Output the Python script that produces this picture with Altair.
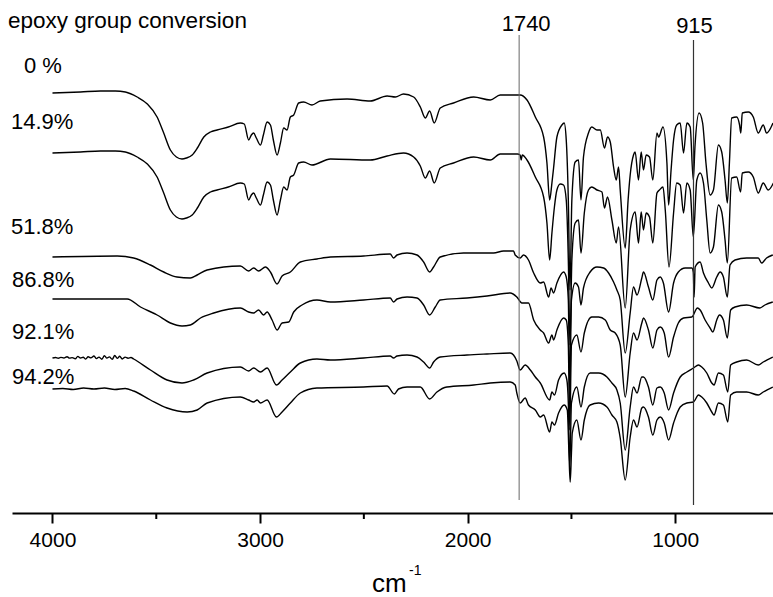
import altair as alt
import pandas as pd

# ---- data (wavenumber cm^-1, offset transmittance a.u.) ----
series_names = ["0 %", "14.9%", "51.8%", "86.8%", "92.1%", "94.2%"]

spec_0 = [(4000,420),(3865,421),(3769,422),(3697,422),(3649,421),(3592,416),(3543,409),(3496,396),(3466,381),(3432,363),(3403,356),(3376,354),(3355,355),(3327,358),(3302,365),(3271,376),(3239,381),(3207,383),(3153,386),(3095,390),(3076,389),(3055,373),(3042,378),(3031,380),(3018,375),(2998,368),(2984,378),(2966,391),(2950,388),(2936,373),(2918,358),(2902,370),(2886,385),(2870,383),(2854,396),(2838,398),(2814,410),(2790,411),(2750,408),(2710,412),(2581,414),(2469,412),(2388,417),(2348,416),(2309,419),(2260,416),(2228,406),(2204,395),(2183,402),(2161,390),(2132,405),(2068,410),(1971,416),(1891,413),(1843,418),(1747,418),(1714,413),(1674,396),(1634,376),(1618,350),(1605,313),(1594,330),(1586,345),(1570,376),(1546,388),(1535,390),(1525,373),(1515,313),(1507,223),(1498,313),(1482,351),(1466,353),(1454,313),(1442,356),(1418,380),(1402,386),(1377,383),(1361,383),(1341,365),(1326,376),(1313,371),(1297,346),(1284,333),(1273,346),(1265,323),(1241,265),(1227,313),(1217,338),(1201,358),(1193,361),(1177,333),(1164,361),(1153,343),(1140,358),(1124,356),(1108,333),(1088,380),(1080,376),(1059,386),(1040,350),(1032,308),(1020,343),(1008,373),(993,388),(976,390),(960,360),(944,390),(928,386),(913,333),(905,366),(885,400),(868,390),(852,350),(832,318),(816,323),(792,368),(776,361),(760,333),(749,310),(739,350),(728,395),(704,396),(690,388),(684,380),(677,400),(648,401),(624,396),(600,380),(576,388),(560,380),(529,390)]

spec_149 = [(4000,360),(3865,361),(3769,362),(3697,362),(3649,361),(3592,356),(3543,349),(3496,336),(3466,321),(3432,303),(3403,296),(3376,294),(3355,295),(3327,298),(3302,305),(3271,316),(3239,321),(3207,323),(3153,326),(3095,330),(3076,329),(3055,313),(3042,318),(3031,320),(3018,315),(2998,308),(2984,318),(2966,331),(2950,328),(2936,313),(2918,298),(2902,313),(2886,326),(2870,323),(2854,336),(2838,338),(2814,350),(2790,351),(2750,348),(2661,354),(2469,353),(2388,357),(2309,360),(2260,356),(2228,347),(2204,335),(2183,342),(2161,330),(2132,345),(2068,350),(1971,356),(1891,353),(1843,359),(1760,359),(1747,358),(1742,353),(1737,358),(1714,353),(1674,336),(1634,316),(1618,290),(1605,253),(1594,280),(1582,306),(1570,323),(1554,329),(1538,328),(1525,313),(1515,253),(1507,168),(1498,253),(1482,290),(1466,293),(1454,260),(1438,300),(1418,323),(1402,326),(1377,323),(1353,321),(1341,305),(1326,316),(1305,293),(1284,270),(1273,286),(1241,205),(1217,283),(1193,301),(1177,270),(1164,301),(1153,283),(1140,300),(1124,296),(1108,270),(1088,320),(1076,323),(1059,326),(1048,303),(1030,246),(1008,300),(993,330),(976,328),(960,300),(944,330),(928,323),(913,276),(896,333),(880,340),(864,330),(848,293),(832,260),(816,266),(792,308),(776,301),(760,273),(749,250),(728,335),(704,336),(685,321),(677,340),(648,341),(624,336),(600,320),(576,330),(552,323),(527,330)]

spec_518 = [(4000,256),(3688,257),(3609,255),(3528,248),(3464,241),(3400,236),(3336,235),(3303,238),(3255,243),(3095,247),(3055,242),(3031,245),(3007,242),(2974,246),(2950,241),(2918,229),(2894,237),(2854,241),(2806,251),(2726,254),(2661,256),(2501,257),(2373,259),(2357,255),(2340,258),(2292,260),(2244,258),(2212,251),(2183,241),(2164,246),(2132,256),(2020,260),(1875,260),(1827,262),(1779,262),(1771,258),(1747,255),(1731,258),(1707,253),(1682,240),(1650,230),(1634,231),(1610,216),(1598,225),(1586,220),(1570,230),(1538,241),(1525,236),(1515,213),(1508,118),(1500,213),(1482,230),(1466,226),(1454,208),(1442,225),(1410,241),(1377,246),(1345,245),(1321,240),(1297,231),(1281,223),(1265,213),(1241,160),(1217,200),(1201,226),(1184,218),(1161,235),(1153,241),(1129,226),(1108,213),(1088,233),(1072,236),(1057,230),(1032,201),(1008,230),(985,241),(952,245),(920,245),(913,241),(909,216),(904,246),(880,251),(864,240),(840,230),(824,225),(800,236),(784,241),(768,236),(749,216),(736,248),(712,253),(656,255),(600,255),(584,250),(560,255),(530,258)]

spec_868 = [(4000,214),(3640,214),(3576,206),(3496,198),(3432,190),(3376,187),(3336,188),(3287,195),(3223,200),(3095,205),(3055,201),(3031,200),(3007,203),(2983,198),(2966,201),(2942,193),(2918,183),(2894,190),(2862,191),(2838,201),(2798,208),(2726,213),(2661,211),(2501,213),(2373,215),(2357,211),(2340,214),(2292,216),(2244,215),(2212,208),(2183,198),(2156,206),(2132,213),(2003,215),(1907,217),(1795,220),(1763,216),(1739,210),(1707,210),(1682,193),(1650,183),(1634,180),(1610,170),(1594,178),(1586,173),(1570,183),(1538,195),(1525,193),(1515,168),(1508,83),(1500,168),(1474,178),(1454,161),(1438,180),(1402,196),(1369,196),(1337,193),(1313,183),(1289,180),(1265,168),(1241,116),(1217,160),(1201,180),(1184,173),(1161,190),(1153,195),(1129,183),(1108,165),(1088,183),(1072,186),(1053,180),(1032,156),(1008,176),(985,190),(960,195),(920,196),(893,205),(880,203),(856,193),(832,185),(819,181),(800,193),(787,198),(768,193),(749,175),(733,203),(712,206),(656,208),(592,205),(568,208),(530,211)]

spec_921 = [(4000,155),(3985,155.5),(3972,154.8),(3960,155.6),(3945,155),(3930,156.3),(3918,154.9),(3905,155.4),(3890,154.2),(3878,156.6),(3865,155),(3852,155.8),(3840,153.9),(3828,156.2),(3815,155.1),(3800,157),(3788,154.4),(3776,155.9),(3762,153.8),(3750,157.3),(3738,154.9),(3726,156.1),(3712,153.7),(3700,157.5),(3688,154.6),(3676,156.8),(3664,154),(3650,155.9),(3636,154.8),(3622,155.5),(3609,154),(3528,143),(3448,133),(3376,130),(3320,133),(3255,140),(3095,146),(3055,142),(3031,145),(2998,141),(2966,145),(2921,128),(2894,133),(2854,141),(2806,150),(2726,154),(2661,153),(2501,155),(2373,157),(2357,155),(2340,157),(2292,158),(2244,156),(2212,151),(2183,145),(2164,151),(2132,156),(2003,158),(1907,159),(1795,160),(1779,158),(1763,152),(1747,143),(1723,148),(1698,143),(1674,136),(1650,130),(1605,113),(1594,121),(1582,118),(1562,133),(1535,140),(1522,133),(1515,110),(1508,45),(1500,110),(1474,126),(1454,106),(1438,126),(1410,140),(1369,140),(1329,136),(1305,130),(1281,123),(1265,110),(1241,63),(1217,106),(1201,126),(1184,120),(1161,136),(1153,136),(1129,126),(1108,108),(1088,125),(1072,126),(1053,120),(1032,103),(1008,120),(976,136),(944,141),(912,145),(888,148),(872,146),(848,140),(824,130),(813,128),(792,140),(768,138),(747,121),(733,148),(704,151),(656,153),(600,148),(576,151),(530,156)]

spec_942 = [(4000,124),(3950,124.5),(3900,123.5),(3850,125),(3800,124),(3750,125),(3700,123.5),(3650,124.5),(3609,122),(3528,113),(3448,105),(3351,101),(3303,103),(3255,110),(3095,116),(3055,113),(3031,111),(3014,113),(2998,110),(2966,113),(2921,96),(2894,101),(2854,110),(2806,120),(2726,125),(2501,126),(2388,127),(2353,119),(2333,124),(2292,126),(2228,126),(2183,114),(2148,121),(2100,126),(1971,128),(1891,130),(1795,131),(1771,128),(1763,120),(1747,110),(1723,115),(1707,108),(1674,103),(1650,96),(1634,98),(1605,81),(1594,91),(1582,88),(1562,100),(1535,108),(1520,103),(1512,60),(1506,31),(1500,60),(1496,80),(1474,93),(1454,73),(1438,93),(1410,108),(1369,110),(1329,106),(1305,98),(1281,91),(1265,75),(1241,33),(1217,76),(1201,93),(1184,86),(1161,105),(1153,106),(1129,96),(1108,78),(1088,93),(1072,96),(1053,90),(1032,73),(1008,90),(976,106),(944,110),(912,111),(888,118),(872,116),(848,110),(824,101),(813,98),(792,110),(768,108),(747,91),(733,118),(704,121),(656,121),(600,118),(576,121),(530,126)]

spectra = [spec_0, spec_149, spec_518, spec_868, spec_921, spec_942]

major_ticks = [4000, 3000, 2000, 1000]
minor_ticks = [3500, 2500, 1500]
marker_pos = [1752, 912]          # drawn positions of the two reference lines
marker_text = ["1740", "915"]

# ---- build tables ----
rows = []
for name, pts in zip(series_names, spectra):
    for i, (w, v) in enumerate(pts):
        rows.append({"series": name, "wn": w, "T": v, "order": i})
df = pd.DataFrame(rows)

FONT = "Liberation Sans"
W, H = 761, 513
xscale = alt.Scale(domain=[529, 4195], reverse=True, nice=False, zero=False)
yscale = alt.Scale(domain=[0, H], nice=False, zero=False)

lines = alt.Chart(df).mark_line(color="black", strokeWidth=1.4, clip=True,
                                interpolate="monotone").encode(
    x=alt.X("wn:Q", scale=xscale,
            axis=alt.Axis(values=major_ticks, title=None, grid=False, format="d",
                          domainColor="black", domainWidth=2,
                          tickColor="black", tickWidth=2, tickSize=10,
                          labelFont=FONT, labelFontSize=21, labelColor="black",
                          labelPadding=6, labelFlush=False)),
    y=alt.Y("T:Q", scale=yscale, axis=None),
    detail="series:N",
    order="order:Q",
)

minor = alt.Chart(pd.DataFrame({"wn": minor_ticks})).mark_rule(
    color="black", strokeWidth=2).encode(
    x=alt.X("wn:Q", scale=xscale), y=alt.value(H), y2=alt.value(H + 6))

mk = pd.DataFrame({"wn": marker_pos, "label": marker_text})
rule_1740 = alt.Chart(mk.iloc[[0]]).mark_rule(color="#666", strokeWidth=1).encode(
    x=alt.X("wn:Q", scale=xscale), y=alt.value(35), y2=alt.value(500))
rule_915 = alt.Chart(mk.iloc[[1]]).mark_rule(color="#333", strokeWidth=1.2).encode(
    x=alt.X("wn:Q", scale=xscale), y=alt.value(40), y2=alt.value(505))
lab_1740 = alt.Chart(mk.iloc[[0]]).mark_text(
    font=FONT, fontSize=22, align="center", baseline="alphabetic", dx=7, color="black").encode(
    x=alt.X("wn:Q", scale=xscale), y=alt.value(31), text="label:N")
lab_915 = alt.Chart(mk.iloc[[1]]).mark_text(
    font=FONT, fontSize=22, align="center", baseline="alphabetic", dx=1, color="black").encode(
    x=alt.X("wn:Q", scale=xscale), y=alt.value(33), text="label:N")

def txt(s, x, y, size=22):
    return alt.Chart(pd.DataFrame({"t": [s]})).mark_text(
        font=FONT, fontSize=size, align="left", baseline="alphabetic", color="black"
    ).encode(x=alt.value(x), y=alt.value(y), text="t:N")

label_y = [73, 129, 234, 287, 339, 384]
label_x = [12, -1, -1, 0, 0, 0]
texts = [txt(n, lx, ly) for n, lx, ly in zip(series_names, label_x, label_y)]
title = txt("epoxy group conversion", -4, 28, 22.5)
cm = txt("cm", 360, 592, 26)
sup = txt("-1", 397, 575, 14)

chart = alt.layer(lines, minor, rule_1740, rule_915, lab_1740, lab_915, title, cm, sup, *texts).properties(
    width=W, height=H,
    padding={"left": 12, "top": 0, "right": 0, "bottom": 84},
    autosize=alt.AutoSizeParams(type="none"),
).configure(background="white", view=alt.ViewConfig(stroke=None))

chart.save("out.html", embed_options={"renderer": "svg", "actions": False})
